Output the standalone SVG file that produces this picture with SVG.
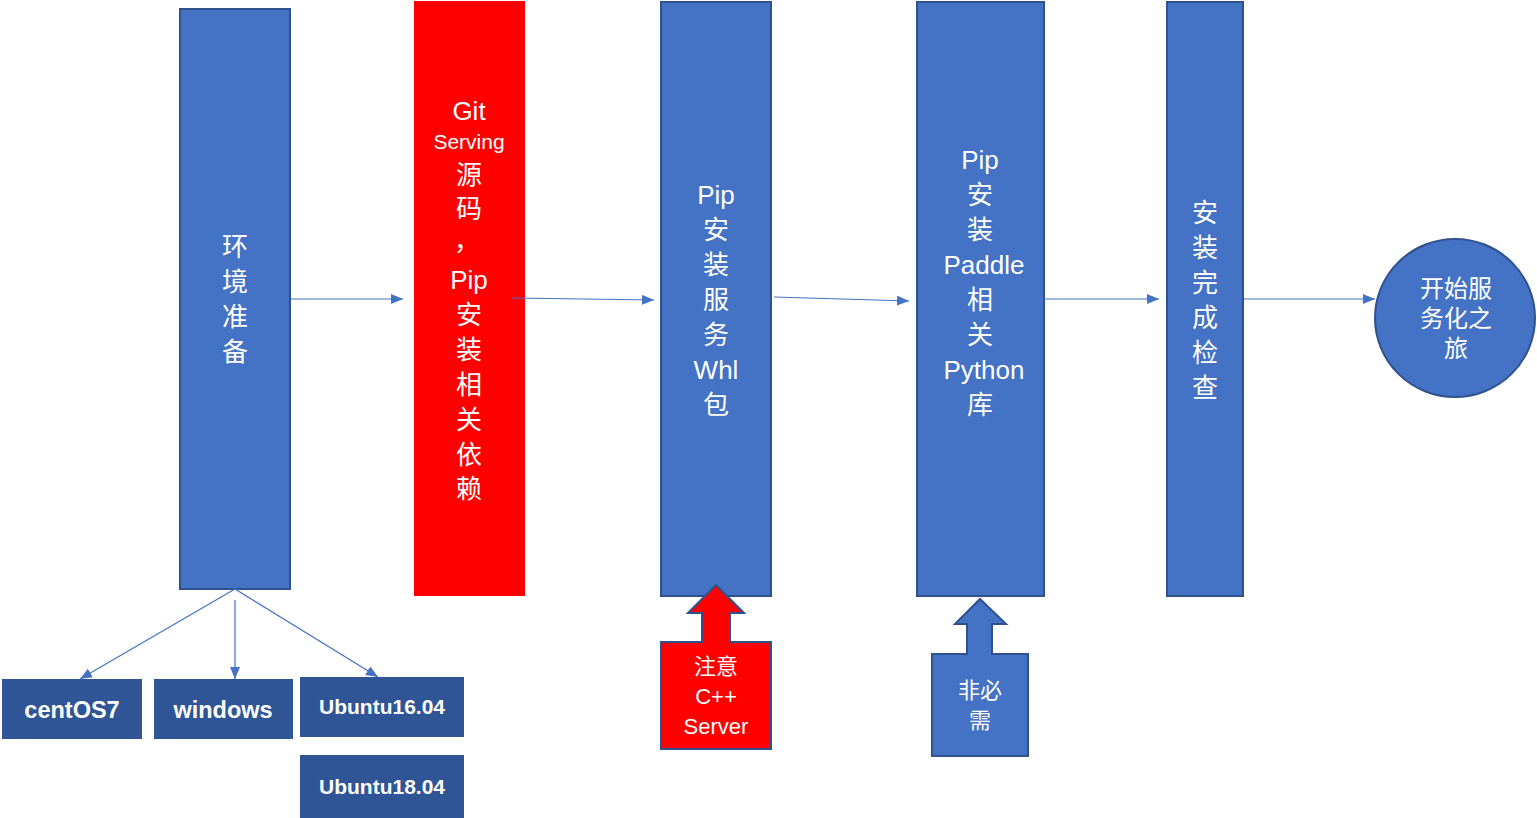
<svg xmlns="http://www.w3.org/2000/svg" width="1537" height="818" viewBox="0 0 1537 818">
<defs>
<marker id="ah" markerUnits="userSpaceOnUse" markerWidth="13" markerHeight="11" refX="12" refY="5" orient="auto">
<path d="M0,0 L12,5 L0,10 z" fill="#4472C4"/>
</marker>
<style>
.blue{fill:#4472C4;stroke:#2F528F;stroke-width:2}
.red{fill:#FF0000;stroke:none}
.redc{fill:#FF0000;stroke:#2F528F;stroke-width:2}
.dark{fill:#2F5597;stroke:none}
.t{fill:#FFFFFF;font-family:"Liberation Sans","Noto Sans CJK SC",sans-serif;text-anchor:middle}
.c{font-size:26px}
.s{font-size:22px}
.b{font-weight:bold;font-size:23.5px}
.conn line{stroke:#4472C4;stroke-width:1.2;fill:none}
</style>
</defs>
<rect width="1537" height="818" fill="#FFFFFF"/>

<g id="env">
<rect class="blue" x="180" y="9" width="110" height="580"/>
<text class="t c" x="235" y="256">环</text>
<text class="t c" x="235" y="291">境</text>
<text class="t c" x="235" y="326">准</text>
<text class="t c" x="235" y="361">备</text>
</g>

<g id="git">
<rect class="red" x="414" y="1" width="111" height="595"/>
<text class="t c" x="469" y="120">Git</text>
<text class="t" style="font-size:21px" x="469" y="149">Serving</text>
<text class="t c" x="469" y="184">源</text>
<text class="t c" x="469" y="218">码</text>
<text class="t c" x="467" y="250">，</text>
<text class="t c" x="469" y="289">Pip</text>
<text class="t c" x="469" y="324">安</text>
<text class="t c" x="469" y="359">装</text>
<text class="t c" x="469" y="394">相</text>
<text class="t c" x="469" y="429">关</text>
<text class="t c" x="469" y="464">依</text>
<text class="t c" x="469" y="498">赖</text>
</g>

<g id="whl">
<rect class="blue" x="661" y="2" width="110" height="594"/>
<text class="t c" x="716" y="204">Pip</text>
<text class="t c" x="716" y="239">安</text>
<text class="t c" x="716" y="274">装</text>
<text class="t c" x="716" y="309">服</text>
<text class="t c" x="716" y="344">务</text>
<text class="t c" x="716" y="379">Whl</text>
<text class="t c" x="716" y="414">包</text>
</g>

<g id="paddle">
<rect class="blue" x="917" y="2" width="127" height="594"/>
<text class="t c" x="980" y="169">Pip</text>
<text class="t c" x="980" y="204">安</text>
<text class="t c" x="980" y="239">装</text>
<text class="t c" x="984" y="274">Paddle</text>
<text class="t c" x="980" y="309">相</text>
<text class="t c" x="980" y="344">关</text>
<text class="t c" x="984" y="379">Python</text>
<text class="t c" x="980" y="414">库</text>
</g>

<g id="check">
<rect class="blue" x="1167" y="2" width="76" height="594"/>
<text class="t c" x="1205" y="222">安</text>
<text class="t c" x="1205" y="257">装</text>
<text class="t c" x="1205" y="292">完</text>
<text class="t c" x="1205" y="327">成</text>
<text class="t c" x="1205" y="362">检</text>
<text class="t c" x="1205" y="397">查</text>
</g>

<g id="start">
<ellipse class="blue" cx="1455" cy="318" rx="80" ry="79"/>
<text class="t" style="font-size:24px" x="1456" y="297">开始服</text>
<text class="t" style="font-size:24px" x="1456" y="327">务化之</text>
<text class="t" style="font-size:24px" x="1456" y="357">旅</text>
</g>

<g id="centos">
<rect class="dark" x="2" y="679" width="140" height="60"/>
<text class="t b" x="72" y="718">centOS7</text>
</g>
<g id="windows">
<rect class="dark" x="154" y="679" width="139" height="60"/>
<text class="t b" x="223" y="718">windows</text>
</g>
<g id="ubuntu16">
<rect class="dark" x="300" y="677" width="164" height="60"/>
<text class="t b" style="font-size:21px" x="382" y="714">Ubuntu16.04</text>
</g>
<g id="ubuntu18">
<rect class="dark" x="300" y="755" width="164" height="63"/>
<text class="t b" style="font-size:21px" x="382" y="794">Ubuntu18.04</text>
</g>

<g id="cpp-note">
<path class="redc" d="M661,642 L702,642 L702,613 L688,613 L716,585 L744,613 L730,613 L730,642 L771,642 L771,749 L661,749 Z"/>
<text class="t s" x="716" y="674">注意</text>
<text class="t s" x="716" y="704">C++</text>
<text class="t s" x="716" y="734">Server</text>
</g>

<g id="optional-note">
<path class="blue" d="M932,654 L967,654 L967,624 L955,624 L980,599 L1006,624 L992,624 L992,654 L1028,654 L1028,756 L932,756 Z"/>
<text class="t s" x="980" y="698">非必</text>
<text class="t s" x="980" y="728">需</text>
</g>

<g class="conn" id="connectors">
<line x1="290" y1="299" x2="403" y2="299" marker-end="url(#ah)"/>
<line x1="512" y1="298" x2="654" y2="300" marker-end="url(#ah)"/>
<line x1="774" y1="297" x2="909" y2="301" marker-end="url(#ah)"/>
<line x1="1044" y1="299" x2="1159" y2="299" marker-end="url(#ah)"/>
<line x1="1244" y1="299" x2="1375" y2="299" marker-end="url(#ah)"/>
<line x1="235" y1="589" x2="80" y2="679" marker-end="url(#ah)"/>
<line x1="235" y1="600" x2="235" y2="679" marker-end="url(#ah)"/>
<line x1="235" y1="589" x2="378" y2="677" marker-end="url(#ah)"/>
</g>
</svg>
